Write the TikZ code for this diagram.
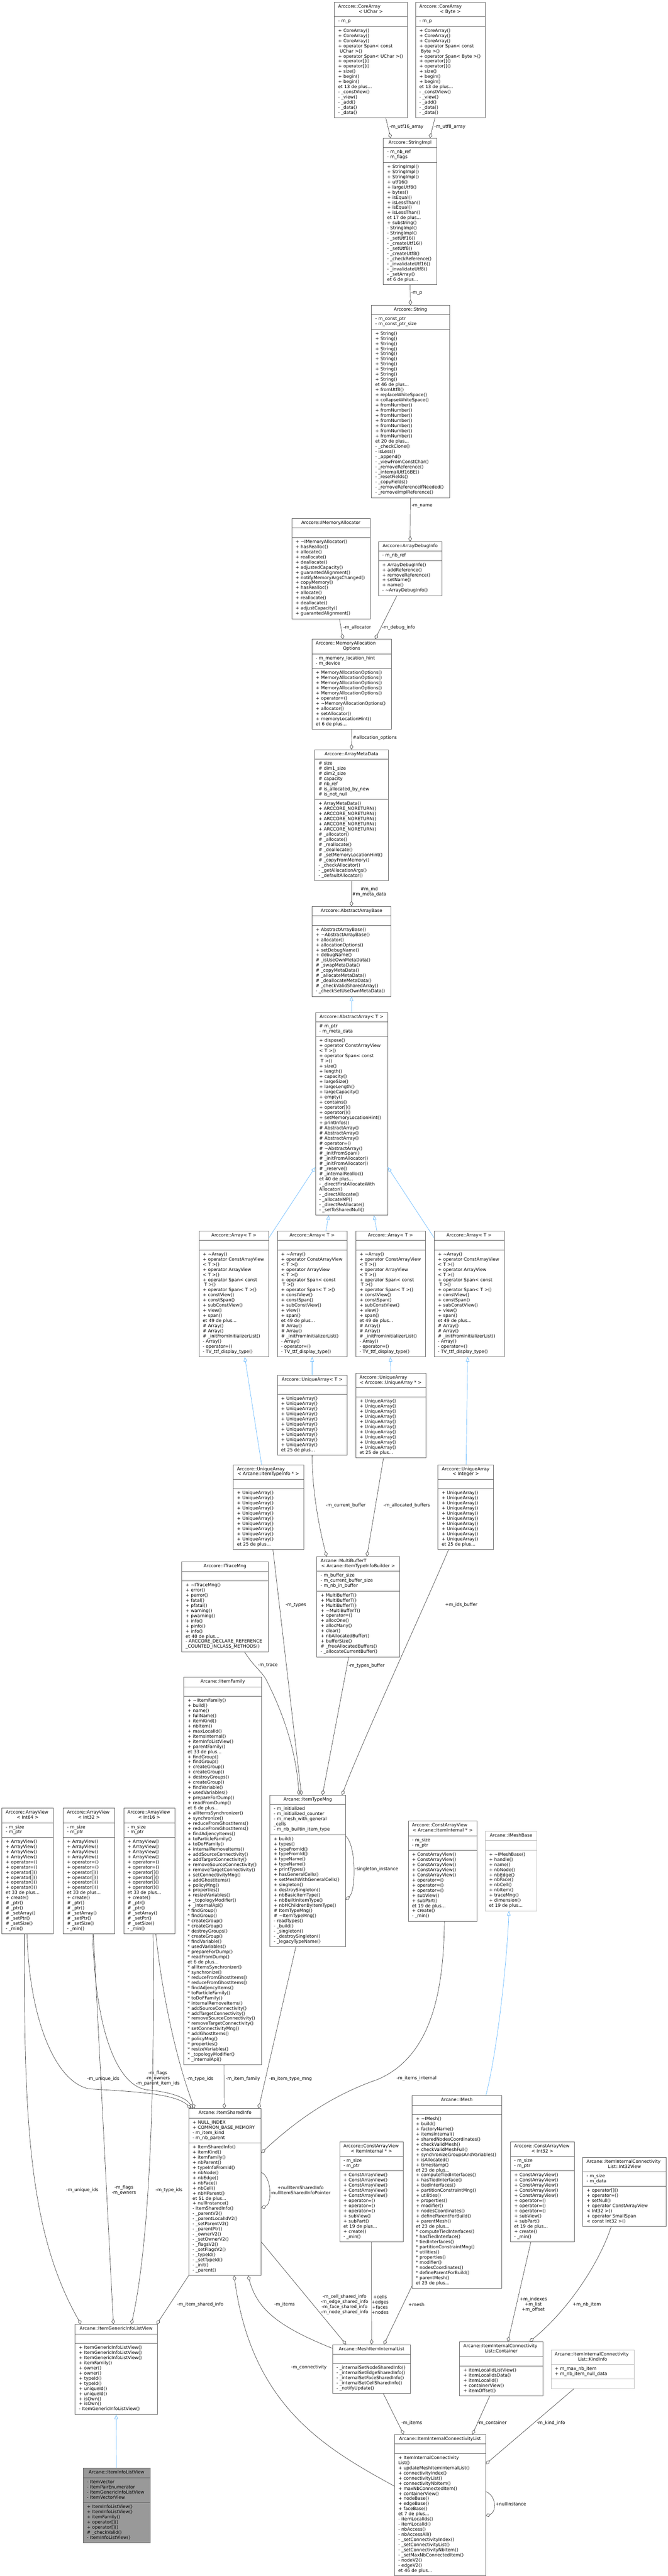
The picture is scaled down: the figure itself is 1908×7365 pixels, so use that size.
\documentclass[tikz,border=0pt]{standalone}
\usepackage{fontspec}
\setmainfont{DejaVu Sans}
\usetikzlibrary{shapes.multipart,arrows.meta}
\definecolor{boxline}{HTML}{666666}
\definecolor{greyline}{HTML}{BFBFBF}
\definecolor{edgecol}{HTML}{404040}
\definecolor{inhcol}{HTML}{63B8FF}
\definecolor{hlfill}{HTML}{999999}
\newcommand{\boxfont}{\fontsize{12.75}{14.67}\selectfont}
% one line per entry, entries separated by \\
\def\umlstop{\umlend}
\def\umlrows#1{\vbox{\baselineskip=14.67pt\relax\umlrowsA#1\\\umlend\\}}
\def\umlrowsA#1\\{\def\umltmp{#1}\ifx\umltmp\umlstop\else\hbox{\strut#1}\expandafter\umlrowsA\fi}
\newcommand{\umlhead}[1]{\vbox{\baselineskip=14.67pt\relax\hbox to\hsize{\hss\strut#1\hss}}}
\newcommand{\umlheadtwo}[2]{\vbox{\baselineskip=14.67pt\relax\hbox{\strut#1}\hbox to\hsize{\hss\strut#2\hss}}}
\newcommand{\arraybody}{\umlrows{+ \textasciitilde Array()\\+ operator ConstArrayView\\< T >()\\+ operator ArrayView\\< T >()\\+ operator Span< const\\ T >()\\+ operator Span< T >()\\+ constView()\\+ constSpan()\\+ subConstView()\\+ view()\\+ span()\\et 49 de plus...\\\# Array()\\\# Array()\\\# \_initFromInitializerList()\\- Array()\\- operator=()\\- TV\_ttf\_display\_type()}}
\newcommand{\uniquebody}{\umlrows{+ UniqueArray()\\+ UniqueArray()\\+ UniqueArray()\\+ UniqueArray()\\+ UniqueArray()\\+ UniqueArray()\\+ UniqueArray()\\+ UniqueArray()\\+ UniqueArray()\\+ UniqueArray()\\et 25 de plus...}}
\newcommand{\cavbody}{\umlrows{+ ConstArrayView()\\+ ConstArrayView()\\+ ConstArrayView()\\+ ConstArrayView()\\+ ConstArrayView()\\+ operator=()\\+ operator=()\\+ operator=()\\+ subView()\\+ subPart()\\et 19 de plus...\\+ create()\\- \_min()}}
\newcommand{\avbody}{\umlrows{+ ArrayView()\\+ ArrayView()\\+ ArrayView()\\+ ArrayView()\\+ operator=()\\+ operator=()\\+ operator[]()\\+ operator[]()\\+ operator()()\\+ operator()()\\et 33 de plus...\\+ create()\\\# \_ptr()\\\# \_ptr()\\\# \_setArray()\\\# \_setPtr()\\\# \_setSize()\\- \_min()}}

\begin{document}
\begin{tikzpicture}[x=1pt, y=-1pt,
  cls/.style={rectangle split, rectangle split parts=3, draw=boxline, fill=white, line width=1pt, font=\boxfont, inner xsep=11pt, inner ysep=5.67pt, anchor=north west},
  memb/.style={draw=edgecol, line width=1pt, -{Diamond[open,length=15pt,width=10pt]}},
  inh/.style={draw=inhcol, line width=1pt, -{Triangle[open,length=13pt,width=10pt]}},
  lbl/.style={font=\boxfont, inner sep=0pt, anchor=west},
  lblc/.style={lbl, anchor=center, align=center}]
	\fill[white] (0,0) rectangle (1908,7365);
	\useasboundingbox (0,0) rectangle (1908,7365);

	% Draw the string and allocator classes
	\node[cls, text width=186pt] (cuchar) at (955,6) {\umlheadtwo{Arccore::CoreArray}{< UChar >}\nodepart{two}\umlrows{- m\_p}\nodepart{three}\umlrows{+ CoreArray()\\+ CoreArray()\\+ CoreArray()\\+ operator Span< const\\ UChar >()\\+ operator Span< UChar >()\\+ operator[]()\\+ operator[]()\\+ size()\\+ begin()\\+ begin()\\et 13 de plus...\\- \_constView()\\- \_view()\\- \_add()\\- \_data()\\- \_data()}};
	\node[cls, text width=177pt] (cbyte) at (1187,6) {\umlheadtwo{Arccore::CoreArray}{< Byte >}\nodepart{two}\umlrows{- m\_p}\nodepart{three}\umlrows{+ CoreArray()\\+ CoreArray()\\+ CoreArray()\\+ operator Span< const\\ Byte >()\\+ operator Span< Byte >()\\+ operator[]()\\+ operator[]()\\+ size()\\+ begin()\\+ begin()\\et 13 de plus...\\- \_constView()\\- \_view()\\- \_add()\\- \_data()\\- \_data()}};
	\node[cls, text width=131pt] (strimpl) at (1095,395) {\umlhead{Arccore::StringImpl}\nodepart{two}\umlrows{- m\_nb\_ref\\- m\_flags}\nodepart{three}\umlrows{+ StringImpl()\\+ StringImpl()\\+ StringImpl()\\+ utf16()\\+ largeUtf8()\\+ bytes()\\+ isEqual()\\+ isLessThan()\\+ isEqual()\\+ isLessThan()\\et 17 de plus...\\+ substring()\\- StringImpl()\\- StringImpl()\\- \_setUtf16()\\- \_createUtf16()\\- \_setUtf8()\\- \_createUtf8()\\- \_checkReference()\\- \_invalidateUtf16()\\- \_invalidateUtf8()\\- \_setArray()\\et 6 de plus...}};
	\node[cls, text width=201pt] (string) at (1061,872) {\umlhead{Arccore::String}\nodepart{two}\umlrows{- m\_const\_ptr\\- m\_const\_ptr\_size}\nodepart{three}\umlrows{+ String()\\+ String()\\+ String()\\+ String()\\+ String()\\+ String()\\+ String()\\+ String()\\+ String()\\+ String()\\et 46 de plus...\\+ fromUtf8()\\+ replaceWhiteSpace()\\+ collapseWhiteSpace()\\+ fromNumber()\\+ fromNumber()\\+ fromNumber()\\+ fromNumber()\\+ fromNumber()\\+ fromNumber()\\+ fromNumber()\\et 20 de plus...\\- \_checkClone()\\- isLess()\\- \_append()\\- \_viewFromConstChar()\\- \_removeReference()\\- \_internalUtf16BE()\\- \_resetFields()\\- \_copyFields()\\- \_removeReferenceIfNeeded()\\- \_removeImplReference()}};
	\node[cls, text width=202pt] (imalloc) at (833,1482) {\umlhead{Arccore::IMemoryAllocator}\nodepart{two}\umlrows{}\nodepart{three}\umlrows{+ \textasciitilde IMemoryAllocator()\\+ hasRealloc()\\+ allocate()\\+ reallocate()\\+ deallocate()\\+ adjustedCapacity()\\+ guarantedAlignment()\\+ notifyMemoryArgsChanged()\\+ copyMemory()\\+ hasRealloc()\\+ allocate()\\+ reallocate()\\+ deallocate()\\+ adjustCapacity()\\+ guarantedAlignment()}};
	\node[cls, text width=159pt] (adbg) at (1081,1548) {\umlhead{Arccore::ArrayDebugInfo}\nodepart{two}\umlrows{- m\_nb\_ref}\nodepart{three}\umlrows{+ ArrayDebugInfo()\\+ addReference()\\+ removeReference()\\+ setName()\\+ name()\\- \textasciitilde ArrayDebugInfo()}};
	\node[cls, text width=205pt] (mao) at (891,1827) {\umlheadtwo{Arccore::MemoryAllocation}{Options}\nodepart{two}\umlrows{- m\_memory\_location\_hint\\- m\_device}\nodepart{three}\umlrows{+ MemoryAllocationOptions()\\+ MemoryAllocationOptions()\\+ MemoryAllocationOptions()\\+ MemoryAllocationOptions()\\+ MemoryAllocationOptions()\\+ operator=()\\+ \textasciitilde MemoryAllocationOptions()\\+ allocator()\\+ setAllocator()\\+ memoryLocationHint()\\et 6 de plus...}};
	\node[cls, text width=188pt] (amd) at (899,2143) {\umlhead{Arccore::ArrayMetaData}\nodepart{two}\umlrows{\# size\\\# dim1\_size\\\# dim2\_size\\\# capacity\\\# nb\_ref\\\# is\_allocated\_by\_new\\\# is\_not\_null}\nodepart{three}\umlrows{+ ArrayMetaData()\\+ ARCCORE\_NORETURN()\\+ ARCCORE\_NORETURN()\\+ ARCCORE\_NORETURN()\\+ ARCCORE\_NORETURN()\\+ ARCCORE\_NORETURN()\\\# \_allocator()\\\# \_allocate()\\\# \_reallocate()\\\# \_deallocate()\\\# \_setMemoryLocationHint()\\\# \_copyFromMemory()\\- \_checkAllocator()\\- \_getAllocationArgs()\\- \_defaultAllocator()}};
	\node[cls, text width=204pt] (aab) at (891,2591) {\umlhead{Arccore::AbstractArrayBase}\nodepart{two}\umlrows{}\nodepart{three}\umlrows{+ AbstractArrayBase()\\+ \textasciitilde AbstractArrayBase()\\+ allocator()\\+ allocationOptions()\\+ setDebugName()\\+ debugName()\\\# \_isUseOwnMetaData()\\\# \_swapMetaData()\\\# \_copyMetaData()\\\# \_allocateMetaData()\\\# \_deallocateMetaData()\\\# \_checkValidSharedArray()\\- \_checkSetUseOwnMetaData()}};

	% Draw the array classes
	\node[cls, text width=184pt] (absarr) at (901,2894) {\umlhead{Arccore::AbstractArray< T >}\nodepart{two}\umlrows{\# m\_ptr\\- m\_meta\_data}\nodepart{three}\umlrows{+ dispose()\\+ operator ConstArrayView\\< T >()\\+ operator Span< const\\ T >()\\+ size()\\+ length()\\+ capacity()\\+ largeSize()\\+ largeLength()\\+ largeCapacity()\\+ empty()\\+ contains()\\+ operator[]()\\+ operator()()\\+ setMemoryLocationHint()\\+ printInfos()\\\# AbstractArray()\\\# AbstractArray()\\\# AbstractArray()\\\# operator=()\\\# \textasciitilde AbstractArray()\\\# \_initFromSpan()\\\# \_initFromAllocator()\\\# \_initFromAllocator()\\\# \_reserve()\\\# \_internalRealloc()\\et 40 de plus...\\- \_directFirstAllocateWith\\Allocator()\\- \_directAllocate()\\- \_allocateMP()\\- \_directReAllocate()\\- \_setToSharedNull()}};
	\node[cls, text width=178pt] (arr0) at (568,3519) {\umlhead{Arccore::Array< T >}\nodepart{two}\umlrows{}\nodepart{three}\arraybody};
	\node[cls, text width=177pt] (arr1) at (792,3519) {\umlhead{Arccore::Array< T >}\nodepart{two}\umlrows{}\nodepart{three}\arraybody};
	\node[cls, text width=177pt] (arr2) at (1016,3519) {\umlhead{Arccore::Array< T >}\nodepart{two}\umlrows{}\nodepart{three}\arraybody};
	\node[cls, text width=178pt] (arr3) at (1240,3519) {\umlhead{Arccore::Array< T >}\nodepart{two}\umlrows{}\nodepart{three}\arraybody};
	\node[cls, text width=177pt] (uat) at (792,3932) {\umlhead{Arccore::UniqueArray< T >}\nodepart{two}\umlrows{}\nodepart{three}\uniquebody};
	\node[cls, text width=178pt] (uaua) at (1016,3925) {\umlheadtwo{Arccore::UniqueArray}{< Arccore::UniqueArray * >}\nodepart{two}\umlrows{}\nodepart{three}\uniquebody};
	\node[cls, text width=137pt] (uaint) at (1251,4187) {\umlheadtwo{Arccore::UniqueArray}{< Integer >}\nodepart{two}\umlrows{}\nodepart{three}\uniquebody};
	\node[cls, text width=179pt] (uatype) at (666,4187) {\umlheadtwo{Arccore::UniqueArray}{< Arcane::ItemTypeInfo * >}\nodepart{two}\umlrows{}\nodepart{three}\uniquebody};

	% Draw the item type manager and its neighbours
	\node[cls, text width=225pt] (tracemng) at (519,4465) {\umlhead{Arccore::ITraceMng}\nodepart{two}\umlrows{}\nodepart{three}\umlrows{+ \textasciitilde ITraceMng()\\+ error()\\+ perror()\\+ fatal()\\+ pfatal()\\+ warning()\\+ pwarning()\\+ info()\\+ pinfo()\\+ info()\\et 40 de plus...\\- ARCCORE\_DECLARE\_REFERENCE\\\_COUNTED\_INCLASS\_METHODS()}};
	\node[cls, text width=214pt] (mbuf) at (905,4450) {\umlheadtwo{Arcane::MultiBufferT}{< Arcane::ItemTypeInfoBuilder >}\nodepart{two}\umlrows{- m\_buffer\_size\\- m\_current\_buffer\_size\\- m\_nb\_in\_buffer}\nodepart{three}\umlrows{+ MultiBufferT()\\+ MultiBufferT()\\+ MultiBufferT()\\+ \textasciitilde MultiBufferT()\\+ operator=()\\+ allocOne()\\+ allocMany()\\+ clear()\\+ nbAllocatedBuffer()\\+ bufferSize()\\\# \_freeAllocatedBuffers()\\- \_allocateCurrentBuffer()}};
	\node[cls, text width=200pt] (ifamily) at (525,4795) {\umlhead{Arcane::IItemFamily}\nodepart{two}\umlrows{}\nodepart{three}\umlrows{+ \textasciitilde IItemFamily()\\+ build()\\+ name()\\+ fullName()\\+ itemKind()\\+ nbItem()\\+ maxLocalId()\\+ itemsInternal()\\+ itemInfoListView()\\+ parentFamily()\\et 33 de plus...\\+ findGroup()\\+ findGroup()\\+ createGroup()\\+ createGroup()\\+ destroyGroups()\\+ createGroup()\\+ findVariable()\\+ usedVariables()\\+ prepareForDump()\\+ readFromDump()\\et 6 de plus...\\+ allItemsSynchronizer()\\+ synchronize()\\+ reduceFromGhostItems()\\+ reduceFromGhostItems()\\+ findAdjencyItems()\\+ toParticleFamily()\\+ toDoFFamily()\\+ internalRemoveItems()\\+ addSourceConnectivity()\\+ addTargetConnectivity()\\+ removeSourceConnectivity()\\+ removeTargetConnectivity()\\+ setConnectivityMng()\\+ addGhostItems()\\+ policyMng()\\+ properties()\\+ resizeVariables()\\+ \_topologyModifier()\\+ \_internalApi()\\* findGroup()\\* findGroup()\\* createGroup()\\* createGroup()\\* destroyGroups()\\* createGroup()\\* findVariable()\\* usedVariables()\\* prepareForDump()\\* readFromDump()\\et 6 de plus...\\* allItemsSynchronizer()\\* synchronize()\\* reduceFromGhostItems()\\* reduceFromGhostItems()\\* findAdjencyItems()\\* toParticleFamily()\\* toDoFFamily()\\* internalRemoveItems()\\* addSourceConnectivity()\\* addTargetConnectivity()\\* removeSourceConnectivity()\\* removeTargetConnectivity()\\* setConnectivityMng()\\* addGhostItems()\\* policyMng()\\* properties()\\* resizeVariables()\\* \_topologyModifier()\\* \_internalApi()}};
	\node[cls, text width=194pt] (itmng) at (771,5132) {\umlhead{Arcane::ItemTypeMng}\nodepart{two}\umlrows{- m\_initialized\\- m\_initialized\_counter\\- m\_mesh\_with\_general\\\_cells\\- m\_nb\_builtin\_item\_type}\nodepart{three}\umlrows{+ build()\\+ types()\\+ typeFromId()\\+ typeFromId()\\+ typeName()\\+ typeName()\\+ printTypes()\\+ hasGeneralCells()\\+ setMeshWithGeneralCells()\\+ singleton()\\+ destroySingleton()\\+ nbBasicItemType()\\+ nbBuiltInItemType()\\+ nbHChildrenByItemType()\\\# ItemTypeMng()\\\# \textasciitilde ItemTypeMng()\\- readTypes()\\- \_build()\\- \_singleton()\\- \_destroySingleton()\\- \_legacyTypeName()}};
	\node[cls, text width=175pt] (cavii) at (1166,5206) {\umlheadtwo{Arccore::ConstArrayView}{< Arcane::ItemInternal * >}\nodepart{two}\umlrows{- m\_size\\- m\_ptr}\nodepart{three}\cavbody};
	\node[cls, draw=greyline, text width=126pt] (imeshbase) at (1386,5235) {\umlhead{Arcane::IMeshBase}\nodepart{two}\umlrows{}\nodepart{three}\umlrows{+ \textasciitilde IMeshBase()\\+ handle()\\+ name()\\+ nbNode()\\+ nbEdge()\\+ nbFace()\\+ nbCell()\\+ nbItem()\\+ traceMng()\\+ dimension()\\et 19 de plus...}};

	% Draw the array views
	\node[cls, text width=125pt] (av64) at (5,5169) {\umlheadtwo{Arccore::ArrayView}{< Int64 >}\nodepart{two}\umlrows{- m\_size\\- m\_ptr}\nodepart{three}\avbody};
	\node[cls, text width=125pt] (av32) at (180,5169) {\umlheadtwo{Arccore::ArrayView}{< Int32 >}\nodepart{two}\umlrows{- m\_size\\- m\_ptr}\nodepart{three}\avbody};
	\node[cls, text width=124pt] (av16) at (353,5169) {\umlheadtwo{Arccore::ArrayView}{< Int16 >}\nodepart{two}\umlrows{- m\_size\\- m\_ptr}\nodepart{three}\avbody};

	% Draw the item classes at the bottom
	\node[cls, text width=185pt] (isinfo) at (539,6028) {\umlhead{Arcane::ItemSharedInfo}\nodepart{two}\umlrows{+ NULL\_INDEX\\+ COMMON\_BASE\_MEMORY\\- m\_item\_kind\\- m\_nb\_parent}\nodepart{three}\umlrows{+ ItemSharedInfo()\\+ itemKind()\\+ itemFamily()\\+ nbParent()\\+ typeInfoFromId()\\+ nbNode()\\+ nbEdge()\\+ nbFace()\\+ nbCell()\\+ nbHParent()\\et 51 de plus...\\+ nullInstance()\\- ItemSharedInfo()\\- \_parentV2()\\- \_parentLocalIdV2()\\- \_setParentV2()\\- \_parentPtr()\\- \_ownerV2()\\- \_setOwnerV2()\\- \_flagsV2()\\- \_setFlagsV2()\\- \_typeId()\\- \_setTypeId()\\- \_init()\\- \_parent()}};
	\node[cls, text width=234pt] (imesh) at (1177,5991) {\umlhead{Arcane::IMesh}\nodepart{two}\umlrows{}\nodepart{three}\umlrows{+ \textasciitilde IMesh()\\+ build()\\+ factoryName()\\+ itemsInternal()\\+ sharedNodesCoordinates()\\+ checkValidMesh()\\+ checkValidMeshFull()\\+ synchronizeGroupsAndVariables()\\+ isAllocated()\\+ timestamp()\\et 23 de plus...\\+ computeTiedInterfaces()\\+ hasTiedInterface()\\+ tiedInterfaces()\\+ partitionConstraintMng()\\+ utilities()\\+ properties()\\+ modifier()\\+ nodesCoordinates()\\+ defineParentForBuild()\\+ parentMesh()\\et 23 de plus...\\* computeTiedInterfaces()\\* hasTiedInterface()\\* tiedInterfaces()\\* partitionConstraintMng()\\* utilities()\\* properties()\\* modifier()\\* nodesCoordinates()\\* defineParentForBuild()\\* parentMesh()\\et 23 de plus...}};
	\node[cls, text width=160pt] (cavii2) at (970,6123) {\umlheadtwo{Arccore::ConstArrayView}{< ItemInternal * >}\nodepart{two}\umlrows{- m\_size\\- m\_ptr}\nodepart{three}\cavbody};
	\node[cls, text width=161pt] (cav32) at (1458,6123) {\umlheadtwo{Arccore::ConstArrayView}{< Int32 >}\nodepart{two}\umlrows{- m\_size\\- m\_ptr}\nodepart{three}\cavbody};
	\node[cls, text width=216pt] (i32view) at (1665,6167) {\umlheadtwo{Arcane::ItemInternalConnectivity}{List::Int32View}\nodepart{two}\umlrows{- m\_size\\- m\_data}\nodepart{three}\umlrows{+ operator[]()\\+ operator=()\\+ setNull()\\+ operator ConstArrayView\\< Int32 >()\\+ operator SmallSpan\\< const Int32 >()}};
	\node[cls, text width=201pt] (mil) at (950,6703) {\umlhead{Arcane::MeshItemInternalList}\nodepart{two}\umlrows{}\nodepart{three}\umlrows{- \_internalSetNodeSharedInfo()\\- \_internalSetEdgeSharedInfo()\\- \_internalSetFaceSharedInfo()\\- \_internalSetCellSharedInfo()\\- \_notifyUpdate()}};
	\node[cls, text width=216pt] (cont) at (1313,6695) {\umlheadtwo{Arcane::ItemInternalConnectivity}{List::Container}\nodepart{two}\umlrows{}\nodepart{three}\umlrows{+ itemLocalIdListView()\\+ itemLocalIdsData()\\+ itemLocalId()\\+ containerView()\\+ itemOffset()}};
	\node[cls, draw=greyline, text width=216pt] (kind) at (1574,6718) {\umlheadtwo{Arcane::ItemInternalConnectivity}{List::KindInfo}\nodepart{two}\umlrows{+ m\_max\_nb\_item\\+ m\_nb\_item\_null\_data}\nodepart{three}\umlrows{}};
	\node[cls, text width=238pt] (iicl) at (1127,6960) {\umlhead{Arcane::ItemInternalConnectivityList}\nodepart{two}\umlrows{}\nodepart{three}\umlrows{+ ItemInternalConnectivity\\List()\\+ updateMeshItemInternalList()\\+ connectivityIndex()\\+ connectivityList()\\+ connectivityNbItem()\\+ maxNbConnectedItem()\\+ containerView()\\+ nodeBase()\\+ edgeBase()\\+ faceBase()\\et 7 de plus...\\- itemLocalIds()\\- itemLocalId()\\- nbAccess()\\- nbAccessAll()\\- \_setConnectivityIndex()\\- \_setConnectivityList()\\- \_setConnectivityNbItem()\\- \_setMaxNbConnectedItem()\\- nodeV2()\\- edgeV2()\\et 46 de plus...}};
	\node[cls, text width=213pt] (gilv) at (214,6645) {\umlhead{Arcane::ItemGenericInfoListView}\nodepart{two}\umlrows{}\nodepart{three}\umlrows{+ ItemGenericInfoListView()\\+ ItemGenericInfoListView()\\+ ItemGenericInfoListView()\\+ itemFamily()\\+ owner()\\+ owner()\\+ typeId()\\+ typeId()\\+ uniqueId()\\+ uniqueId()\\+ isOwn()\\+ isOwn()\\- ItemGenericInfoListView()}};
	\node[cls, fill=hlfill, text width=169pt] (ilv) at (237,7056) {\umlhead{Arcane::ItemInfoListView}\nodepart{two}\umlrows{- ItemVector\\- ItemPairEnumerator\\- ItemGenericInfoListView\\- ItemVectorView}\nodepart{three}\umlrows{+ ItemInfoListView()\\+ ItemInfoListView()\\+ itemFamily()\\+ operator[]()\\+ operator[]()\\\# \_checkValid()\\- ItemInfoListView()}};

	% Draw the inheritance links
	\draw[inh] (absarr.north) -- (aab.south);
	\draw[inh] ([yshift=-19pt]arr0.north east) -- ([yshift=-443pt]absarr.north west);
	\draw[inh] ([xshift=39.5pt]arr1.north) -- ([xshift=-65pt]absarr.south);
	\draw[inh] ([xshift=-39pt]arr2.north) -- ([xshift=64pt]absarr.south);
	\draw[inh] ([yshift=-19pt]arr3.north west) -- ([yshift=-443pt]absarr.north east);
	\draw[inh] (uat.north) -- (arr1.south);
	\draw[inh] (uaua.north) -- (arr2.south);
	\draw[inh] ([xshift=1pt]uaint.north) -- ([xshift=-4pt]arr3.south);
	\draw[inh] ([xshift=-19.5pt]uatype.north) -- ([xshift=31pt]arr0.south);
	\draw[inh] ([xshift=83pt]imesh.north) .. controls (1420,5870) and (1448,5620) .. ([xshift=-6pt]imeshbase.south);
	\draw[inh] (ilv.north) -- (gilv.south);

	% Draw the member links
	\draw[memb] ([xshift=43pt]cuchar.south) -- ([xshift=-55.5pt]strimpl.north);
	\draw[memb] ([xshift=-44pt]cbyte.south) -- ([xshift=56.5pt]strimpl.north);
	\draw[memb] (strimpl.south) -- (string.north);
	\draw[memb] (string.south) -- (adbg.north);
	\draw[memb] ([xshift=24.6pt]imalloc.south) -- ([xshift=-25pt]mao.north);
	\draw[memb] ([xshift=-38pt]adbg.south) -- ([xshift=67pt]mao.north);
	\draw[memb] (mao.south) -- (amd.north);
	\draw[memb] (amd.south) -- (aab.north);
	\draw[memb] (uat.south) .. controls (892,4270) and (915,4380) .. ([xshift=-90pt]mbuf.north);
	\draw[memb] ([xshift=-20.5pt]uaua.south) -- ([xshift=25pt]mbuf.north);
	\draw[memb] ([xshift=13pt]uatype.south) -- ([xshift=-18pt]itmng.north);
	\draw[memb] ([xshift=56pt]tracemng.south) .. controls (725,4765) and (750,4780) .. (762,4805) .. controls (800,4880) and (845,4990) .. ([xshift=-25pt]itmng.north);
	\draw[memb] ([xshift=-27pt]mbuf.south) -- ([xshift=42pt]itmng.north);
	\draw[memb] ([xshift=-49pt]uaint.south) .. controls (1210,4600) and (1030,4990) .. ([xshift=98pt]itmng.north);
	\draw[memb] ([yshift=-117.5pt]itmng.north east) .. controls (1018,5275) and (1018,5405) .. ([yshift=-300pt]itmng.north east);
	\draw[memb] ([xshift=5pt]cavii.south) .. controls (1268,5700) and (1230,5880) .. (1080,5945) .. controls (950,5990) and (850,6060) .. ([yshift=-127pt]isinfo.north east);
	\draw[memb] ([xshift=-34pt]itmng.south) -- ([xshift=96pt]isinfo.north);
	\draw[memb] ([xshift=4pt]ifamily.south) -- ([xshift=-2pt]isinfo.north);
	\draw[memb] ([xshift=-1.5pt]av64.south) .. controls (82,5750) and (150,5950) .. (254,5972) .. controls (380,5980) and (500,5985) .. ([xshift=-97pt]isinfo.north);
	\draw[memb] ([xshift=11pt]av32.south) .. controls (270,5760) and (320,5960) .. (420,5975) .. controls (480,5980) and (530,5995) .. ([xshift=-92pt]isinfo.north);
	\draw[memb] ([xshift=19pt]av16.south) .. controls (460,5680) and (500,5880) .. ([xshift=-87pt]isinfo.north);
	\draw[memb] ([xshift=-9pt]av64.south) .. controls (68,6050) and (80,6380) .. ([xshift=-100.5pt]gilv.north);
	\draw[memb] ([xshift=13pt]av32.south) -- ([xshift=-8pt]gilv.north);
	\draw[memb] ([xshift=11pt]av16.south) .. controls (442,5950) and (430,6400) .. ([xshift=43.5pt]gilv.north);
	\draw[memb] (isinfo.south west) -- ([xshift=-2pt]gilv.north east);
	\draw[memb] ([yshift=-183pt]isinfo.north east) .. controls (777,6225) and (777,6300) .. ([yshift=-285pt]isinfo.north east);
	\draw[memb] ([yshift=-382pt]isinfo.north east) -- ([xshift=-73pt]mil.north);
	\draw[memb] ([yshift=-11pt]mil.north west) .. controls (790,6650) and (735,6600) .. ([xshift=66pt]isinfo.south);
	\draw[memb] (cavii2.south) -- (mil.north);
	\draw[memb] ([yshift=6pt]imesh.south west) -- ([xshift=35pt]mil.north);
	\draw[memb] ([xshift=-33pt]cav32.south) -- ([xshift=19pt]cont.north);
	\draw[memb] ([xshift=-38pt]i32view.south) .. controls (1720,6450) and (1640,6590) .. ([xshift=81pt]cont.north);
	\draw[memb] ([xshift=33.5pt]mil.south) -- ([xshift=-104pt]iicl.north);
	\draw[memb] ([xshift=-33pt]cont.south) -- ([xshift=92.5pt]iicl.north);
	\draw[memb] ([xshift=-53pt]kind.south) -- ([yshift=-85pt]iicl.north east);
	\draw[memb] ([yshift=-163.5pt]iicl.north east) .. controls (1419,7135) and (1419,7182) .. ([yshift=-233.5pt]iicl.north east);
	\draw[memb] ([yshift=-148pt]iicl.north west) .. controls (930,7000) and (720,6880) .. ([xshift=26pt]isinfo.south);

	% Label the member links
	\node[lbl] (lutf16) at (1113,362) {-m\_utf16\_array};
	\node[lbl] (lutf8) at (1241,362) {-m\_utf8\_array};
	\node[lbl] (lp) at (1175,839) {-m\_p};
	\node[lbl] (lname) at (1176,1447) {-m\_name};
	\node[lbl] (lalloc) at (981,1794) {-m\_allocator};
	\node[lbl] (ldebug) at (1092,1794) {-m\_debug\_info};
	\node[lbl] (lopts) at (1008,2110) {\#allocation\_options};
	\node[lblc] (lmd) at (1055,2550) {\#m\_md\\\#m\_meta\_data};
	\node[lbl] (lcurbuf) at (931,4304) {-m\_current\_buffer};
	\node[lbl] (lallocbuf) at (1096,4304) {-m\_allocated\_buffers};
	\node[lbl] (ltypes) at (816,4589) {-m\_types};
	\node[lbl] (ltrace) at (737,4762) {-m\_trace};
	\node[lbl] (ltypesbuf) at (996,4762) {-m\_types\_buffer};
	\node[lbl] (lids) at (1272,4589) {+m\_ids\_buffer};
	\node[lbl] (lsingle) at (1014,5345) {-singleton\_instance};
	\node[lbl] (litemsint) at (1133,5943) {-m\_items\_internal};
	\node[lbl] (ltypemng) at (769,5944) {-m\_item\_type\_mng};
	\node[lbl] (lfamily) at (645,5944) {-m\_item\_family};
	\node[lbl] (luid) at (249,5944) {-m\_unique\_ids};
	\node[lblc] (lflags) at (451,5943) {-m\_flags\\-m\_owners\\-m\_parent\_item\_ids};
	\node[lbl] (ltypeid) at (533,5944) {-m\_type\_ids};
	\node[lbl] (luidb) at (189,6262) {-m\_unique\_ids};
	\node[lblc] (lflagsb) at (354,6262) {-m\_flags\\-m\_owners};
	\node[lbl] (ltypeidb) at (444.5,6262) {-m\_type\_ids};
	\node[lbl] (lshared) at (506,6589) {-m\_item\_shared\_info};
	\node[lblc] (lnull) at (859,6262) {+nullItemSharedInfo\\-nullItemSharedInfoPointer};
	\node[lblc] (lkinds) at (984.6,6589) {-m\_cell\_shared\_info\\-m\_edge\_shared\_info\\-m\_face\_shared\_info\\-m\_node\_shared\_info};
	\node[lbl] (litems) at (783.5,6589) {-m\_items};
	\node[lblc] (lcells) at (1086,6589) {+cells\\+edges\\+faces\\+nodes};
	\node[lbl] (lmesh) at (1167,6589) {+mesh};
	\node[lbl] (lconn) at (832,6769) {-m\_connectivity};
	\node[lblc] (lidx) at (1524,6589) {+m\_indexes\\+m\_list\\+m\_offset};
	\node[lbl] (lnbitem) at (1636,6589) {+m\_nb\_item};
	\node[lbl] (litemsb) at (1147,6928) {-m\_items};
	\node[lbl] (lcont) at (1364,6928) {-m\_container};
	\node[lbl] (lkind) at (1534,6928) {-m\_kind\_info};
	\node[lbl] (lnullinst) at (1415,7159) {+nullInstance};
\end{tikzpicture}
\end{document}
